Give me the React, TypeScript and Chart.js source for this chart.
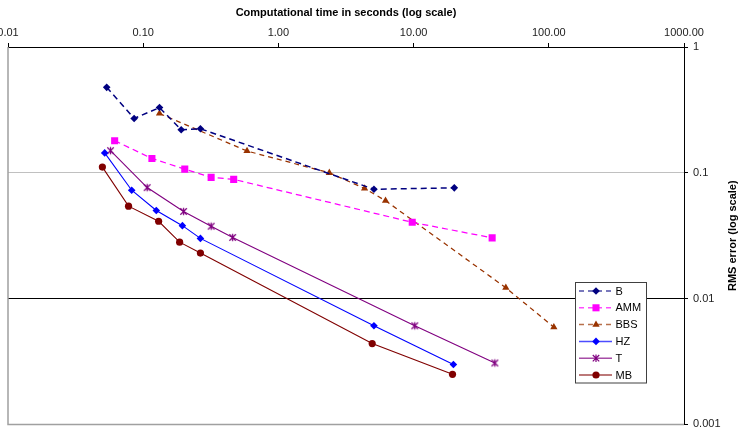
import React, { useEffect, useRef } from 'react';
import { Chart, registerables } from 'chart.js';

Chart.register(...registerables);

const FONT = "Arial, 'Liberation Sans', sans-serif";

const xTickValues = [0.01, 0.1, 1, 10, 100, 1000];
const yTickValues = [0.001, 0.01, 0.1, 1];
const xTitle = 'Computational time in seconds (log scale)';
const yTitle = 'RMS error (log scale)';

const seriesNames = ['B', 'AMM', 'BBS', 'HZ', 'T', 'MB'];

const bTime = [0.0537, 0.0857, 0.132, 0.191, 0.265, 5.09, 20.0];
const bErr = [0.478, 0.27, 0.33, 0.22, 0.224, 0.074, 0.0759];
const ammTime = [0.0615, 0.116, 0.203, 0.318, 0.467, 9.77, 38.1];
const ammErr = [0.18, 0.13, 0.107, 0.092, 0.0887, 0.0404, 0.0304];
const bbsTime = [0.132, 0.586, 2.38, 4.34, 6.2, 48.1, 109];
const bbsErr = [0.296, 0.149, 0.1, 0.075, 0.06, 0.0122, 0.00593];
const hzTime = [0.0519, 0.0822, 0.125, 0.195, 0.265, 5.09, 19.7];
const hzErr = [0.144, 0.0727, 0.0502, 0.038, 0.0301, 0.00608, 0.00299];
const tTime = [0.0573, 0.107, 0.199, 0.318, 0.459, 10.2, 39.9];
const tErr = [0.15, 0.0763, 0.0493, 0.0376, 0.0306, 0.00608, 0.00308];
const mbTime = [0.0499, 0.0779, 0.13, 0.186, 0.265, 4.94, 19.4];
const mbErr = [0.111, 0.0543, 0.0412, 0.0281, 0.023, 0.00439, 0.0025];

const seriesTimes = [bTime, ammTime, bbsTime, hzTime, tTime, mbTime];
const seriesErrs = [bErr, ammErr, bbsErr, hzErr, tErr, mbErr];

const styles = [
  { color: '#000080', point: 'rectRot', radius: 3.8, dash: [6, 4], width: 1.5 },
  { color: '#FF00FF', point: 'rect', radius: 5, dash: [6, 4], width: 1.25 },
  { color: '#993300', point: 'triangle', radius: 4.2, dash: [5, 4], width: 1.25 },
  { color: '#0000FF', point: 'rectRot', radius: 3.8, dash: [], width: 1.1 },
  { color: '#800080', point: 'asterisk', radius: 3.8, dash: [], width: 1.1 },
  { color: '#800000', point: 'circle', radius: 3.6, dash: [], width: 1.1 },
];

function drawMarker(ctx: CanvasRenderingContext2D, kind: string, x: number, y: number, r: number, color: string) {
  ctx.save();
  ctx.fillStyle = color;
  ctx.strokeStyle = color;
  ctx.lineWidth = 1.2;
  ctx.setLineDash([]);
  ctx.beginPath();
  if (kind === 'rectRot') {
    ctx.moveTo(x, y - r);
    ctx.lineTo(x + r, y);
    ctx.lineTo(x, y + r);
    ctx.lineTo(x - r, y);
    ctx.closePath();
    ctx.fill();
  } else if (kind === 'rect') {
    const s = r * Math.SQRT1_2;
    ctx.rect(x - s, y - s, 2 * s, 2 * s);
    ctx.fill();
  } else if (kind === 'triangle') {
    let a = 0;
    ctx.moveTo(x + Math.sin(a) * r, y - Math.cos(a) * r);
    a += (2 * Math.PI) / 3;
    ctx.lineTo(x + Math.sin(a) * r, y - Math.cos(a) * r);
    a += (2 * Math.PI) / 3;
    ctx.lineTo(x + Math.sin(a) * r, y - Math.cos(a) * r);
    ctx.closePath();
    ctx.fill();
  } else if (kind === 'asterisk') {
    const d = r * 0.85;
    ctx.moveTo(x, y - r);
    ctx.lineTo(x, y + r);
    ctx.moveTo(x - d, y - d);
    ctx.lineTo(x + d, y + d);
    ctx.moveTo(x - d, y + d);
    ctx.lineTo(x + d, y - d);
    ctx.stroke();
  } else {
    ctx.arc(x, y, r, 0, Math.PI * 2);
    ctx.fill();
  }
  ctx.restore();
}

function makeAsteriskImage(color: string, r: number): HTMLCanvasElement {
  const size = Math.ceil(r * 2 + 3);
  const c = document.createElement('canvas');
  c.width = size;
  c.height = size;
  const cx = c.getContext('2d');
  if (cx) drawMarker(cx, 'asterisk', size / 2, size / 2, r, color);
  return c;
}

const decorPlugin = {
  id: 'decor',
  beforeDatasetsDraw(chart: any) {
    const { ctx, chartArea } = chart;
    ctx.save();
    ctx.strokeStyle = '#a0a0a0';
    ctx.lineWidth = 1.5;
    ctx.beginPath();
    ctx.moveTo(chartArea.left, chartArea.top);
    ctx.lineTo(chartArea.left, chartArea.bottom);
    ctx.lineTo(chartArea.right, chartArea.bottom);
    ctx.stroke();
    ctx.restore();
  },
  afterDraw(chart: any) {
    const { ctx, chartArea } = chart;
    ctx.save();
    ctx.translate(733, (chartArea.top + chartArea.bottom) / 2);
    ctx.rotate(-Math.PI / 2);
    ctx.font = `bold 11px ${FONT}`;
    ctx.fillStyle = '#000';
    ctx.textAlign = 'center';
    ctx.textBaseline = 'middle';
    ctx.fillText(yTitle, 0, 0);
    ctx.restore();

    const bx = 575.5, by = 282.5, bw = 71, bh = 100.5;
    ctx.save();
    ctx.fillStyle = '#fff';
    ctx.fillRect(bx, by, bw, bh);
    ctx.strokeStyle = '#404040';
    ctx.lineWidth = 1;
    ctx.strokeRect(bx, by, bw, bh);
    ctx.font = `11px ${FONT}`;
    ctx.textAlign = 'left';
    ctx.textBaseline = 'middle';
    seriesNames.forEach((name, i) => {
      const st = styles[i];
      const cy = 291 + i * 16.8;
      ctx.save();
      ctx.strokeStyle = st.color;
      ctx.globalAlpha = 0.7;
      ctx.lineWidth = 1.5;
      ctx.setLineDash(st.dash.length ? [5, 4] : []);
      ctx.beginPath();
      ctx.moveTo(579, cy);
      ctx.lineTo(612, cy);
      ctx.stroke();
      ctx.restore();
      drawMarker(ctx, st.point, 596, cy, st.radius, st.color);
      ctx.fillStyle = '#000';
      ctx.fillText(name, 615.5, cy + 0.5);
    });
    ctx.restore();
  },
};

export default function App() {
  const canvasRef = useRef<HTMLCanvasElement | null>(null);

  useEffect(() => {
    const canvas = canvasRef.current;
    if (!canvas) return;
    const datasets = seriesNames.map((name, i) => {
      const st = styles[i];
      const ps: any = st.point === 'asterisk' ? makeAsteriskImage(st.color, st.radius) : st.point;
      return {
        label: name,
        data: seriesTimes[i].map((t, j) => ({ x: t, y: seriesErrs[i][j] })),
        showLine: true,
        borderColor: st.color,
        backgroundColor: st.color,
        borderWidth: st.width,
        borderDash: st.dash,
        pointStyle: ps,
        pointRadius: st.radius,
        pointBorderWidth: 0,
        pointBackgroundColor: st.color,
        pointBorderColor: st.color,
        tension: 0,
      };
    });

    const chart = new Chart(canvas, {
      type: 'scatter',
      data: { datasets },
      options: {
        animation: false,
        responsive: true,
        maintainAspectRatio: false,
        layout: { padding: { left: 8, right: 0, top: 0, bottom: 8 } },
        plugins: { legend: { display: false }, tooltip: { enabled: false } },
        scales: {
          x: {
            type: 'logarithmic',
            position: 'top',
            min: 0.01,
            max: 1000,
            afterBuildTicks: (scale: any) => {
              scale.ticks = xTickValues.map((v) => ({ value: v }));
            },
            afterFit: (scale: any) => {
              scale.height = 47;
              scale.paddingLeft = 0;
              scale.paddingRight = 0;
            },
            ticks: {
              autoSkip: false,
              maxRotation: 0,
              padding: 3,
              color: '#222',
              font: { size: 11, family: FONT },
              callback: (v: any) => Number(v).toFixed(2),
            },
            grid: {
              drawOnChartArea: false,
              drawTicks: true,
              tickLength: 4,
              tickColor: '#000',
              color: '#000',
            },
            border: { display: true, color: '#000', width: 1 },
            title: {
              display: true,
              text: xTitle,
              color: '#000',
              font: { size: 11, weight: 'bold', family: FONT },
              padding: { top: 6, bottom: 0 },
            },
          },
          y: {
            type: 'logarithmic',
            position: 'right',
            min: 0.001,
            max: 1,
            afterBuildTicks: (scale: any) => {
              scale.ticks = yTickValues.map((v) => ({ value: v }));
            },
            afterFit: (scale: any) => {
              scale.width = 60;
            },
            ticks: {
              autoSkip: false,
              padding: 5,
              color: '#222',
              font: { size: 11, family: FONT },
              callback: (v: any) => String(Number(v)),
            },
            grid: {
              drawOnChartArea: true,
              drawTicks: true,
              tickLength: 4,
              tickColor: '#000',
              lineWidth: 1,
              color: (c: any) => {
                const v = c.tick ? c.tick.value : null;
                if (v === 0.1) return '#c0c0c0';
                if (v === 0.001) return '#a0a0a0';
                return '#000';
              },
            },
            border: { display: true, color: '#000', width: 1 },
            title: { display: false },
          },
        },
      },
      plugins: [decorPlugin],
    } as any);

    return () => chart.destroy();
  }, []);

  return (
    <div style={{ position: 'fixed', left: 0, top: 0, width: 744, height: 436, background: '#fff' }}>
      <canvas ref={canvasRef} />
    </div>
  );
}
